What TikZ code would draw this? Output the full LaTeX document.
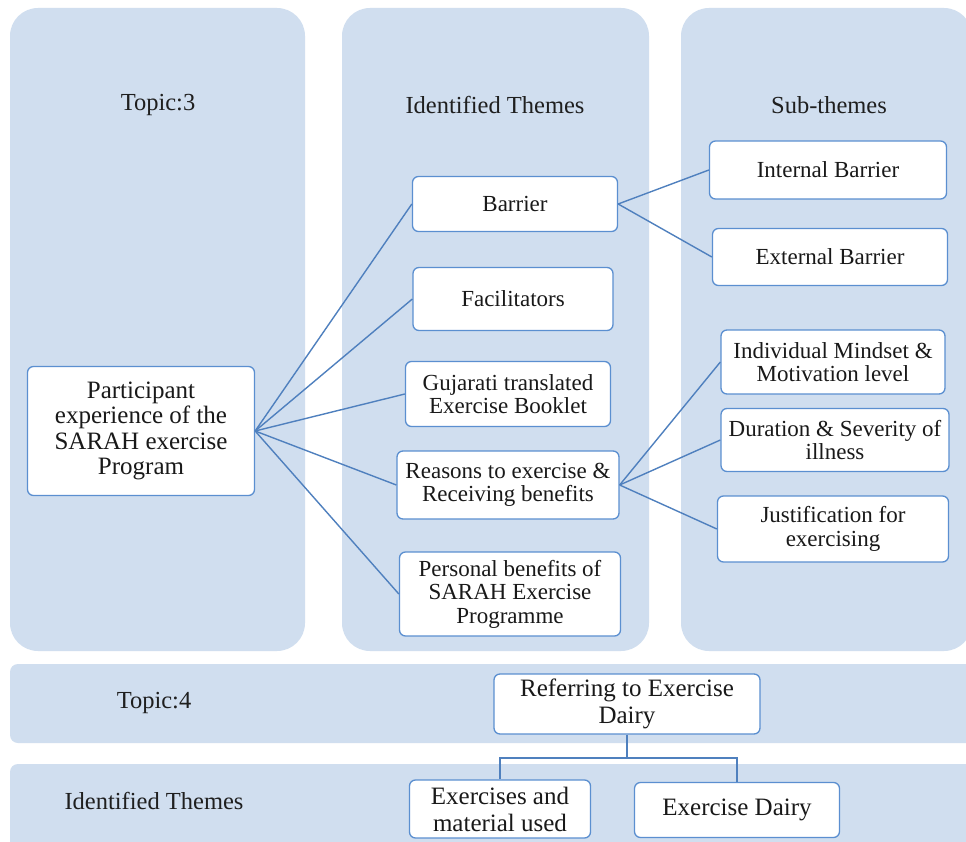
\documentclass[tikz,border=0pt]{standalone}
\usepackage{fontspec}
\setmainfont{Liberation Serif}
\newfontfamily\tnr{Liberation Serif}
\definecolor{panelfill}{HTML}{D0DEEF}
\definecolor{boxline}{HTML}{5B8FD0}
\definecolor{conline}{HTML}{4F80BE}
\begin{document}
\begin{tikzpicture}[x=1pt,y=-1pt,
  panel/.style={fill=panelfill,draw=none,rounded corners=28pt},
  band/.style={fill=panelfill,draw=none,rounded corners=8pt},
  ttl/.style={font=\tnr\fontsize{24.5}{27}\selectfont,text=black!88},
  bx/.style={draw=boxline,line width=1.3pt,fill=white,rounded corners=6pt,
    align=center,font=\tnr\fontsize{23}{23.5}\selectfont,text=black!90,inner sep=0pt},
  bigtxt/.style={font=\tnr\fontsize{25}{25.5}\selectfont},
  lowtxt/.style={font=\tnr\fontsize{25}{27}\selectfont},
  con/.style={draw=conline,line width=1.4pt}]
\useasboundingbox (0,0) rectangle (966,842);
\fill[white] (0,0) rectangle (966,842);
% panels
\path[panel] (10,8) rectangle (305,651);
\path[panel] (342,8) rectangle (649,651);
\path[panel] (681,8) rectangle (972,651);
\path[band] (10,664) rectangle (985,743);
\path[band] (10,764) rectangle (985,860);
% titles
\node[ttl] (t3) at (158,105) {Topic:3};
\node[ttl] (tid) at (495,105) {Identified Themes};
\node[ttl] (tsub) at (829,105) {Sub-themes};
\node[ttl] (t4) at (154,703) {Topic:4};
\node[ttl] (tid2) at (154,801) {Identified Themes};
% boxes
\node[bx,bigtxt,minimum width=227pt,minimum height=129pt] (part) at (141,431)
  {Participant\\experience of the\\SARAH exercise\\Program};
\node[bx,minimum width=205pt,minimum height=55pt] (bar) at (515,204) {Barrier};
\node[bx,minimum width=200pt,minimum height=63pt] (fac) at (513,299) {Facilitators};
\node[bx,minimum width=205pt,minimum height=65pt] (guj) at (508,394) {Gujarati translated\\Exercise Booklet};
\node[bx,minimum width=222pt,minimum height=68pt] (rea) at (508,485) {Reasons to exercise \&\\Receiving benefits};
\node[bx,minimum width=221pt,minimum height=84pt] (per) at (510,594) {Personal benefits of\\SARAH Exercise\\Programme};
\node[bx,minimum width=237pt,minimum height=58pt] (int) at (828,170) {Internal Barrier};
\node[bx,minimum width=235pt,minimum height=57pt] (ext) at (830,257) {External Barrier};
\node[bx,minimum width=224pt,minimum height=64pt] (ind) at (833,362) {Individual Mindset \&\\Motivation level};
\node[bx,minimum width=228pt,minimum height=63pt] (dur) at (835,440) {Duration \& Severity of\\illness};
\node[bx,minimum width=231pt,minimum height=66pt] (jus) at (833,529) {Justification for\\exercising};
\node[bx,lowtxt,minimum width=266pt,minimum height=60pt] (ref) at (627,704) {Referring to Exercise\\Dairy};
\node[bx,lowtxt,minimum width=181pt,minimum height=58pt] (exm) at (500,809) {Exercises and\\material used};
\node[bx,lowtxt,minimum width=205pt,minimum height=55pt] (exd) at (737,810) {Exercise Dairy};
% connectors
\foreach \t in {bar,fac,guj,rea,per} \draw[con] (part.east) -- (\t.west);
\foreach \t in {int,ext} \draw[con] (bar.east) -- (\t.west);
\foreach \t in {ind,dur,jus} \draw[con] (rea.east) -- (\t.west);
\coordinate (mid) at (627,758);
\draw[con] (ref.south) -- (mid);
\draw[con] (mid) -| (exm.north);
\draw[con] (mid) -| (exd.north);
\end{tikzpicture}
\end{document}
